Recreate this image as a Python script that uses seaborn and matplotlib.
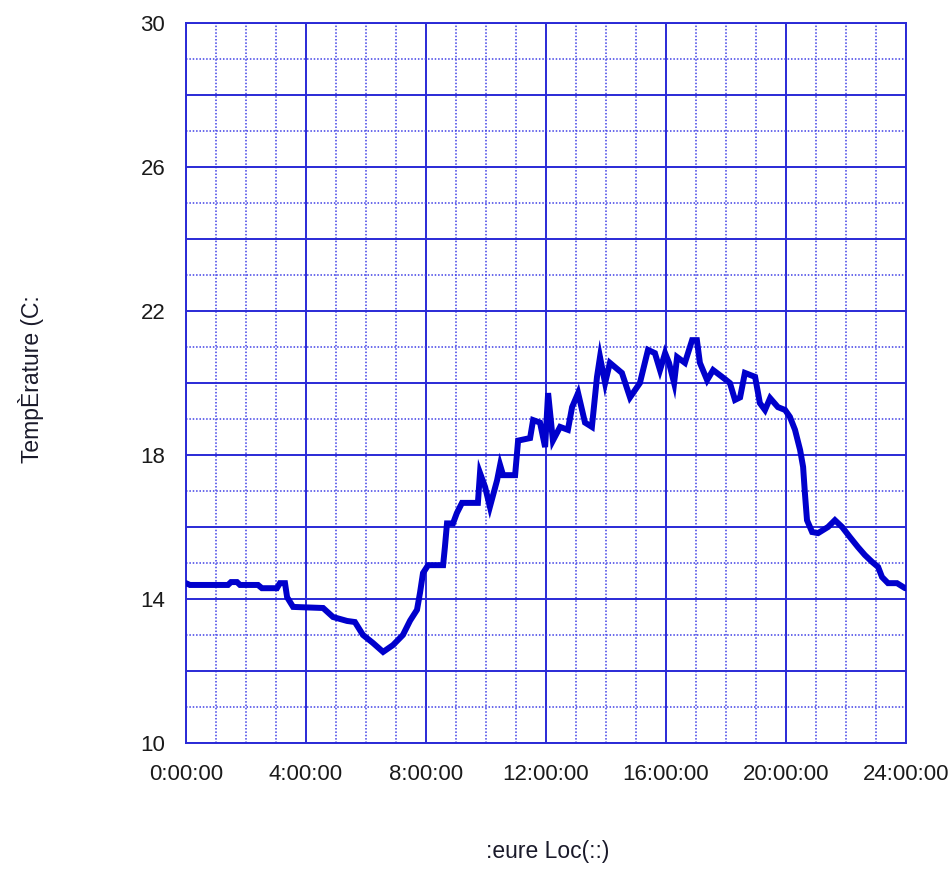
import matplotlib
matplotlib.use("Agg")
import matplotlib.pyplot as plt
import seaborn as sns
import pandas as pd
import numpy as np
from matplotlib.ticker import MultipleLocator, FixedLocator

hours = [0.00, 0.13, 1.40, 1.50, 1.70, 1.80, 2.40, 2.53, 3.03, 3.13, 3.30, 3.37, 3.57,
         4.57, 4.90, 5.37, 5.63, 5.90, 6.23, 6.57, 6.90, 7.23, 7.47, 7.70, 7.80, 7.90,
         8.07, 8.57, 8.63, 8.70, 8.90, 9.03, 9.20, 9.73, 9.80, 9.97, 10.13, 10.37, 10.47,
         10.57, 10.97, 11.07, 11.47, 11.57, 11.80, 11.97, 12.07, 12.23, 12.47, 12.73,
         12.87, 13.07, 13.30, 13.53, 13.70, 13.80, 13.97, 14.13, 14.53, 14.80, 15.13,
         15.40, 15.63, 15.80, 15.97, 16.10, 16.27, 16.37, 16.63, 16.87, 17.03, 17.13,
         17.37, 17.57, 17.87, 18.13, 18.30, 18.47, 18.63, 18.97, 19.13, 19.30, 19.47,
         19.73, 19.97, 20.13, 20.30, 20.47, 20.57, 20.63, 20.70, 20.87, 21.07, 21.40,
         21.63, 21.87, 22.13, 22.40, 22.63, 22.87, 23.07, 23.20, 23.40, 23.70, 23.97]
temps = [14.44, 14.39, 14.39, 14.47, 14.47, 14.39, 14.39, 14.30, 14.30, 14.44, 14.44, 14.05, 13.78,
         13.75, 13.50, 13.39, 13.36, 13.00, 12.78, 12.53, 12.72, 13.00, 13.40, 13.70, 14.17, 14.72,
         14.94, 14.94, 15.44, 16.10, 16.10, 16.39, 16.67, 16.67, 17.50, 17.11, 16.56, 17.30, 17.72,
         17.44, 17.44, 18.40, 18.47, 18.97, 18.90, 18.22, 19.72, 18.40, 18.78, 18.70,
         19.33, 19.72, 18.90, 18.78, 20.17, 20.72, 20.00, 20.56, 20.28, 19.60, 20.00,
         20.92, 20.83, 20.36, 20.83, 20.56, 20.00, 20.72, 20.56, 21.19, 21.19, 20.56,
         20.08, 20.36, 20.17, 20.00, 19.53, 19.60, 20.28, 20.17, 19.44, 19.25, 19.58,
         19.33, 19.25, 19.06, 18.70, 18.14, 17.67, 16.94, 16.19, 15.86, 15.83, 16.00,
         16.19, 16.00, 15.72, 15.44, 15.22, 15.03, 14.89, 14.61, 14.44, 14.44, 14.30]

x_ticks = [0, 4, 8, 12, 16, 20, 24]
x_labels = ["0:00:00", "4:00:00", "8:00:00", "12:00:00", "16:00:00", "20:00:00", "24:00:00"]
y_label_values = [10, 14, 18, 22, 26, 30]
x_title = ":eure Loc(::)"
y_title = "TempÈrature (C:"

df = pd.DataFrame({"hour": hours, "temp": temps})

sns.set_theme(style="white")
plt.rcParams["font.family"] = ["Liberation Sans", "DejaVu Sans"]

fig = plt.figure(figsize=(9.51, 8.72), dpi=100)
ax = fig.add_axes([186 / 951, 1 - 743 / 872, 720 / 951, 720 / 872])

major_c = "#2a2ad6"
minor_c = "#4040e6"

ax.set_xlim(0, 24)
ax.set_ylim(10, 30)
ax.xaxis.set_major_locator(FixedLocator(x_ticks))
ax.xaxis.set_minor_locator(MultipleLocator(1))
ax.yaxis.set_major_locator(MultipleLocator(2))
ax.yaxis.set_minor_locator(MultipleLocator(1))
ax.set_xticklabels(x_labels)
yt = np.arange(10, 31, 2)
ax.set_yticks(yt)
ax.set_yticklabels([str(int(v)) if int(v) in y_label_values else "" for v in yt])

ax.grid(True, which="major", color=major_c, linewidth=1.4, linestyle="-", zorder=0)
ax.grid(True, which="minor", color=minor_c, linewidth=1.1, linestyle=(0, (1, 1.2)), zorder=0)
ax.set_axisbelow(True)

sns.lineplot(data=df, x="hour", y="temp", ax=ax, color="#0000cc", linewidth=4.3,
             zorder=3)
ax.lines[-1].set_solid_joinstyle("miter")

for s in ax.spines.values():
    s.set_color(major_c)
    s.set_linewidth(1.4)

ax.tick_params(axis="both", which="both", length=0, labelsize=16, colors="#1a1a1a")
ax.tick_params(axis="x", pad=15)
ax.tick_params(axis="y", pad=15)

ax.set_xlabel(x_title, fontsize=16.5, color="#1a1a2a")
ax.set_ylabel(y_title, fontsize=16.5, color="#1a1a2a")
ax.xaxis.set_label_coords(0.503, -0.135)
ax.yaxis.set_label_coords(-0.197, 0.505)

fig.savefig("out.png", dpi=100)
